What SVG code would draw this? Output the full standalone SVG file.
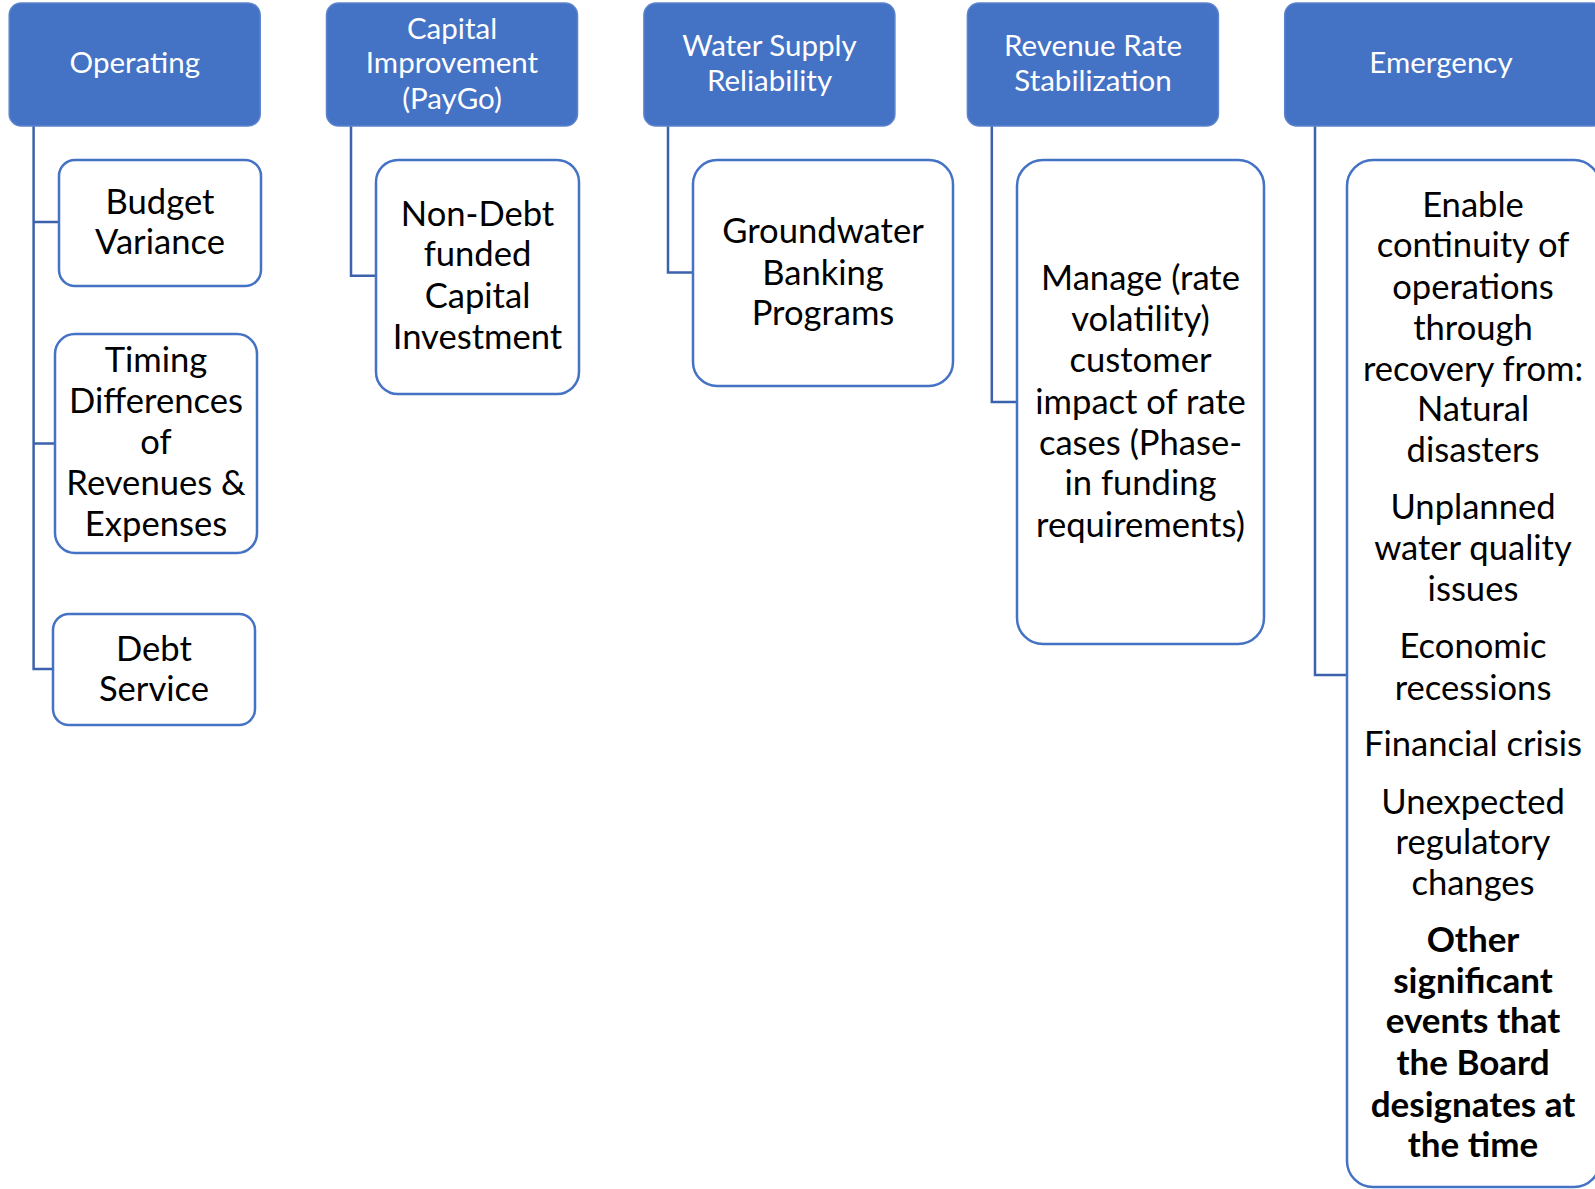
<svg xmlns="http://www.w3.org/2000/svg" width="1595" height="1189" viewBox="0 0 1595 1189">
<style>
.hdr{fill:#4472C4;stroke:#5B84CC;stroke-width:1.5}
.box{fill:#FFFFFF;stroke:#4472C4;stroke-width:2.5}
.ht{font-family:Lato,"Liberation Sans",sans-serif;font-size:29.5px;fill:#FFFFFF;text-anchor:middle}
.bt{font-family:Lato,"Liberation Sans",sans-serif;font-size:34.6px;fill:#000000;text-anchor:middle}
.b{font-weight:bold;font-size:35px}
.con{fill:none;stroke:#3D62AD;stroke-width:2.5}
</style>
<rect width="1595" height="1189" fill="#FFFFFF"/>
<g id="connectors">
<path class="con" d="M33.6,126 V669 H53 M33.6,222 H59 M33.6,443.5 H55"/>
<path class="con" d="M351,126 V275.7 H376"/>
<path class="con" d="M668,126 V272.6 H693"/>
<path class="con" d="M991.8,126 V402 H1017"/>
<path class="con" d="M1315,126 V675 H1347"/>
</g>
<g id="operating">
<rect class="hdr" x="9.2" y="3" width="251" height="123" rx="12"/>
<text class="ht" x="134.8" y="73">Operating</text>
</g>
<g id="capital">
<rect class="hdr" x="326.5" y="3" width="251" height="123" rx="12"/>
<text class="ht" x="452" y="38.5">Capital</text>
<text class="ht" x="452" y="73">Improvement</text>
<text class="ht" x="452" y="108.5">(PayGo)</text>
</g>
<g id="water">
<rect class="hdr" x="643.9" y="3" width="251" height="123" rx="12"/>
<text class="ht" x="769.5" y="56">Water Supply</text>
<text class="ht" x="769.5" y="90.5">Reliability</text>
</g>
<g id="revenue">
<rect class="hdr" x="967.4" y="3" width="251" height="123" rx="12"/>
<text class="ht" x="1093" y="56">Revenue Rate</text>
<text class="ht" x="1093" y="90.5">Stabilization</text>
</g>
<g id="emergency">
<rect class="hdr" x="1284.7" y="3" width="320" height="123" rx="12"/>
<text class="ht" x="1441" y="73">Emergency</text>
</g>
<g id="budget">
<rect class="box" x="59" y="160" width="202" height="126" rx="16"/>
<text class="bt" x="160" y="213.5">Budget</text>
<text class="bt" x="160" y="254">Variance</text>
</g>
<g id="timing">
<rect class="box" x="55" y="334" width="202" height="219" rx="20"/>
<text class="bt" x="156" y="372">Timing</text>
<text class="bt" x="156" y="413">Differences</text>
<text class="bt" x="156" y="453.5">of</text>
<text class="bt" x="156" y="495">Revenues &amp;</text>
<text class="bt" x="156" y="536">Expenses</text>
</g>
<g id="debt">
<rect class="box" x="53" y="614" width="202" height="111" rx="16"/>
<text class="bt" x="154" y="661">Debt</text>
<text class="bt" x="154" y="701">Service</text>
</g>
<g id="nondebt">
<rect class="box" x="376" y="160" width="203" height="234" rx="22"/>
<text class="bt" x="477.5" y="225.6">Non-Debt</text>
<text class="bt" x="477.5" y="266.3">funded</text>
<text class="bt" x="477.5" y="308">Capital</text>
<text class="bt" x="477.5" y="348.7">Investment</text>
</g>
<g id="groundwater">
<rect class="box" x="693" y="160" width="260" height="226" rx="24"/>
<text class="bt" x="823" y="243">Groundwater</text>
<text class="bt" x="823" y="284.6">Banking</text>
<text class="bt" x="823" y="325.3">Programs</text>
</g>
<g id="manage">
<rect class="box" x="1017" y="160" width="247" height="484" rx="26"/>
<text class="bt" x="1140.5" y="289.7">Manage (rate</text>
<text class="bt" x="1140.5" y="331.4">volatility)</text>
<text class="bt" x="1140.5" y="372">customer</text>
<text class="bt" x="1140.5" y="413.8">impact of rate</text>
<text class="bt" x="1140.5" y="454.5">cases (Phase-</text>
<text class="bt" x="1140.5" y="495">in funding</text>
<text class="bt" x="1140.5" y="537">requirements)</text>
</g>
<g id="emergency-detail">
<rect class="box" x="1347" y="160" width="253" height="1027" rx="26"/>
<text class="bt" x="1473" y="216.5">Enable</text>
<text class="bt" x="1473" y="257">continuity of</text>
<text class="bt" x="1473" y="298.8">operations</text>
<text class="bt" x="1473" y="339.5">through</text>
<text class="bt" x="1473" y="381">recovery from:</text>
<text class="bt" x="1473" y="421">Natural</text>
<text class="bt" x="1473" y="461.6">disasters</text>
<text class="bt" x="1473" y="518.6">Unplanned</text>
<text class="bt" x="1473" y="560.3">water quality</text>
<text class="bt" x="1473" y="601">issues</text>
<text class="bt" x="1473" y="658">Economic</text>
<text class="bt" x="1473" y="699.6">recessions</text>
<text class="bt" x="1473" y="755.6">Financial crisis</text>
<text class="bt" x="1473" y="813.6">Unexpected</text>
<text class="bt" x="1473" y="854.2">regulatory</text>
<text class="bt" x="1473" y="895">changes</text>
<text class="bt b" x="1473" y="952">Other</text>
<text class="bt b" x="1473" y="992.6">significant</text>
<text class="bt b" x="1473" y="1033.3">events that</text>
<text class="bt b" x="1473" y="1075">the Board</text>
<text class="bt b" x="1473" y="1116.6">designates at</text>
<text class="bt b" x="1473" y="1157.4">the time</text>
</g>
</svg>
